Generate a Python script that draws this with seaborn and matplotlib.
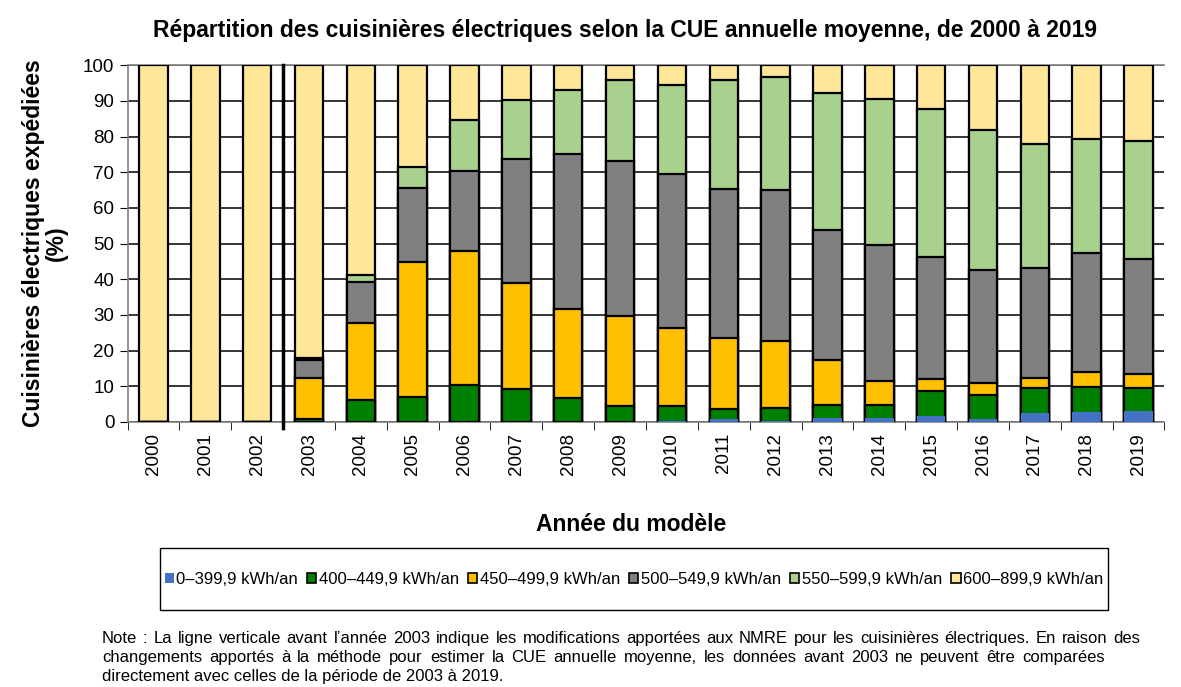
import numpy as np
import pandas as pd
import matplotlib
matplotlib.use("Agg")
import matplotlib.pyplot as plt
import seaborn as sns
from matplotlib.patches import Patch, Rectangle

# Model years and share (%) of each annual energy consumption class
years = [str(y) for y in range(2000, 2020)]
cls_0_399 = [0, 0, 0, 0, 0, 0, 0, 0, 0, 0, 0.3, 0.8, 0.3, 1.2, 1.2, 1.5, 0.9, 2.4, 2.7, 2.9]
cls_400_449 = [0, 0, 0, 0.8, 6.2, 7.1, 10.4, 9.2, 6.6, 4.5, 4.0, 2.8, 3.5, 3.6, 3.6, 7.2, 6.7, 7.2, 7.2, 6.5]
cls_450_499 = [0, 0, 0, 11.6, 21.6, 37.8, 37.5, 29.8, 25.1, 25.3, 22.1, 19.9, 19.0, 12.4, 6.7, 3.3, 3.2, 2.6, 4.0, 4.1]
cls_500_549 = [0, 0, 0, 5.0, 11.4, 20.6, 22.5, 34.7, 43.3, 43.4, 43.1, 41.8, 42.1, 36.5, 38.1, 34.3, 31.9, 31.0, 33.5, 32.2]
cls_550_599 = [0, 0, 0, 0.5, 1.9, 5.9, 14.2, 16.5, 18.0, 22.6, 24.9, 30.5, 31.8, 38.5, 41.0, 41.4, 39.1, 34.8, 31.9, 33.1]
cls_600_899 = [100, 100, 100, 82.1, 58.9, 28.6, 15.4, 9.8, 7.0, 4.2, 5.6, 4.2, 3.3, 7.8, 9.4, 12.3, 18.2, 22.0, 20.7, 21.2]

labels = ["0–399,9 kWh/an", "400–449,9 kWh/an", "450–499,9 kWh/an",
          "500–549,9 kWh/an", "550–599,9 kWh/an", "600–899,9 kWh/an"]
colors = ["#4472C4", "#008000", "#FFC000", "#808080", "#A9D18E", "#FFE699"]

series = [cls_0_399, cls_400_449, cls_450_499, cls_500_549, cls_550_599, cls_600_899]
cum = np.cumsum(np.array(series), axis=0)
df = pd.DataFrame({"year": years})
for i, lab in enumerate(labels):
    df[lab] = cum[i]

plt.rcParams["font.family"] = ["Liberation Sans", "DejaVu Sans"]

fig = plt.figure(figsize=(11.81, 6.87), dpi=100)
ax = fig.add_axes([0.108, 0.386, 0.878, 0.519])

# draw cumulative bars from the top class down so they stack visually
for i in range(len(labels) - 1, -1, -1):
    edge = "none" if i == 0 else "black"
    sns.barplot(data=df, x="year", y=labels[i], color=colors[i], width=0.55,
                edgecolor=edge, linewidth=1.6, saturation=1, ax=ax, zorder=3)

ax.set_ylim(0, 100)
ax.set_xlim(-0.5, len(years) - 0.5)
ax.set_yticks(range(0, 101, 10))
ax.yaxis.grid(True, color="black", linewidth=1.1, zorder=0)
ax.set_axisbelow(True)
ax.tick_params(axis="y", labelsize=13.5, length=6, color="black")
ax.tick_params(axis="x", which="major", length=0, labelsize=13.5, labelrotation=90, pad=8)
ax.set_xticks(np.arange(-0.5, len(years), 1), minor=True)
ax.tick_params(axis="x", which="minor", length=6, color="black")
for side in ["left", "top", "bottom"]:
    ax.spines[side].set_color("#808080")
    ax.spines[side].set_linewidth(1.2)
ax.spines["right"].set_visible(False)
ax.set_xlabel("")
ax.set_ylabel("Cuisinières électriques expédiées\n(%)", fontsize=16.5, fontweight="bold",
              labelpad=11, linespacing=1.0)

# vertical line marking the change of standard before 2003
ax.plot([2.5, 2.5], [-1.8, 100], color="black", linewidth=2.5, clip_on=False, zorder=5)

fig.text(0.529, 0.955, "Répartition des cuisinières électriques selon la CUE annuelle moyenne, de 2000 à 2019",
         ha="center", va="center", fontsize=16.5, fontweight="bold")
fig.text(0.534, 0.237, "Année du modèle", ha="center", va="center", fontsize=16.5, fontweight="bold")

# legend box
fig.patches.append(Rectangle((0.1355, 0.1121), 0.8027, 0.0902, transform=fig.transFigure,
                             facecolor="none", edgecolor="black", linewidth=1.0))
handles = [Patch(facecolor=c, edgecolor=("none" if i == 0 else "black"), linewidth=1.2)
           for i, c in enumerate(colors)]
fig.legend(handles, labels, ncol=6, loc="center", bbox_to_anchor=(0.5368, 0.1572),
           fontsize=12, handlelength=0.55, handleheight=0.55, handletextpad=0.15,
           columnspacing=0.55, borderpad=0, frameon=False)

# note, justified like the source
note_lines = [
    ("Note : La ligne verticale avant l’année 2003 indique les modifications apportées aux NMRE pour les cuisinières électriques. En raison des", 1140),
    ("changements apportés à la méthode pour estimer la CUE annuelle moyenne, les données avant 2003 ne peuvent être comparées", 1105),
    ("directement avec celles de la période de 2003 à 2019.", None),
]
baselines = [0.064, 0.0364, 0.0087]
renderer = fig.canvas.get_renderer()
fig_w = fig.bbox.width
for (line, right_px), yb in zip(note_lines, baselines):
    if right_px is None:
        fig.text(102 / fig_w, yb, line, ha="left", va="baseline", fontsize=12)
        continue
    words = line.split(" ")
    objs = [fig.text(0, yb, w, ha="left", va="baseline", fontsize=12) for w in words]
    widths = [o.get_window_extent(renderer).width for o in objs]
    gap = (right_px - 102 - sum(widths)) / (len(words) - 1)
    x = 102
    for o, w in zip(objs, widths):
        o.set_x(x / fig_w)
        x += w + gap

fig.savefig("out.png", dpi=100)
